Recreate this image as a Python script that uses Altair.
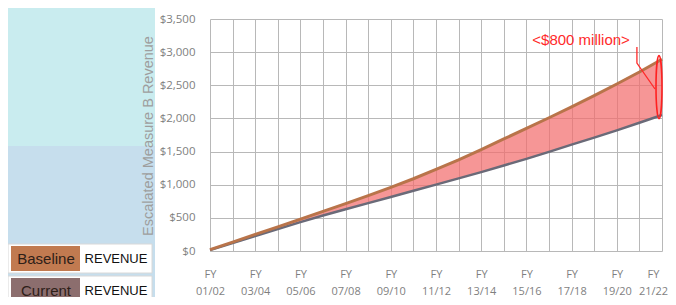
import altair as alt
import pandas as pd

# ---------------- data ----------------
fiscal_years = ["01/02", "02/03", "03/04", "04/05", "05/06", "06/07", "07/08",
                "08/09", "09/10", "10/11", "11/12", "12/13", "13/14", "14/15",
                "15/16", "16/17", "17/18", "18/19", "19/20", "20/21", "21/22"]
baseline = [20, 135, 250, 365, 480, 598, 715, 835, 960, 1090, 1230, 1375,
            1530, 1690, 1850, 2010, 2175, 2345, 2520, 2700, 2892]
current = [15, 120, 225, 330, 435, 535, 630, 722, 815, 910, 1002, 1095,
           1190, 1290, 1390, 1495, 1605, 1710, 1820, 1935, 2052]
y_ticks = [0, 500, 1000, 1500, 2000, 2500, 3000, 3500]
y_title = "Escalated Measure B Revenue"
legend_names = ["Baseline", "Current"]
legend_colors = ["#c17a50", "#8c6e6e"]
legend_tag = "REVENUE"
annotation_text = "<$800 million>"
annotation_pos = [16.42, 3183]
leader_x = [18.89, 18.89, 19.69]
leader_y = [3077, 2836, 2444]

# ---------------- tables ----------------
n = len(fiscal_years)
df = pd.DataFrame({"i": list(range(n)), "fy": fiscal_years,
                   "baseline": baseline, "current": current})
one = pd.DataFrame({"k": [0]})
ann = pd.DataFrame({"x": [annotation_pos[0]], "y": [annotation_pos[1]], "t": [annotation_text]})
leader = pd.DataFrame({"x": leader_x, "y": leader_y, "o": list(range(len(leader_x)))})
ell = pd.DataFrame({"x": [n - 1], "y": [(baseline[-1] + current[-1]) / 2]})

W, H = 452, 232
xscale = alt.Scale(domain=[0, n - 1], nice=False, zero=False)
yscale = alt.Scale(domain=[0, 3500], nice=False)

lbl_arr = "[" + ",".join("'" + f + "'" for f in fiscal_years) + "]"
label_expr = f"datum.value % 2 === 0 ? ['FY', {lbl_arr}[datum.value]] : ''"

x_axis = alt.Axis(values=list(range(n)), labelExpr=label_expr,
                  grid=True, ticks=False, domain=False, title=None,
                  labelPadding=17, labelLineHeight=17, labelBaseline="top",
                  labelFont="Open Sans", labelFontSize=11, labelColor="#7f7f7f",
                  gridColor="#b8b8b8", gridWidth=1, labelAngle=0, labelFlush=False,
                  labelOverlap=False,
                  labelOffset={"expr": f"datum.value === {n - 1} ? -9 : 0"})
y_axis = alt.Axis(values=y_ticks, format="$,.0f", grid=True, ticks=False, domain=False,
                  labelPadding=15, labelFont="Open Sans", labelFontSize=11.5,
                  labelColor="#808080", gridColor="#b8b8b8", gridWidth=1,
                  labelOverlap=False, title=None)

X = lambda f: alt.X(f, scale=xscale, axis=x_axis)
Y = lambda f: alt.Y(f, scale=yscale, axis=y_axis)

# background panels (left side of slide)
bg_top = alt.Chart(one).mark_rect(color="#c9ecef").encode(
    x=alt.value(-202), x2=alt.value(-55), y=alt.value(-11), y2=alt.value(127))
bg_bot = alt.Chart(one).mark_rect(color="#c6deed").encode(
    x=alt.value(-202), x2=alt.value(-55), y=alt.value(127), y2=alt.value(290))

ytitle = alt.Chart(one).mark_text(text=y_title, font="Liberation Sans", fontSize=14.5,
                                  color="#9e9e9e", angle=270, align="center",
                                  baseline="middle").encode(
    x=alt.value(-61), y=alt.value(117))

area = alt.Chart(df).mark_area(color="#f26d6d", opacity=0.72).encode(
    x=X("i:Q"), y=Y("current:Q"), y2="baseline:Q")

line_cur = alt.Chart(df).mark_line(color="#6a6a78", strokeWidth=2.5).encode(
    x=X("i:Q"), y=Y("current:Q"))
line_base = alt.Chart(df).mark_line(color="#b9744a", strokeWidth=3).encode(
    x=X("i:Q"), y=Y("baseline:Q"))

ann_text = alt.Chart(ann).mark_text(color="#ff2a2a", font="Liberation Sans", fontSize=15,
                                    align="center", baseline="middle").encode(
    x=X("x:Q"), y=Y("y:Q"), text="t:N")
ann_line = alt.Chart(leader).mark_line(color="#ff2a2a", strokeWidth=1.3).encode(
    x=X("x:Q"), y=Y("y:Q"), order="o:Q")
ann_ell = alt.Chart(ell).mark_point(
    shape="M0,-1A0.095,1,0,1,1,0,1A0.095,1,0,1,1,0,-1Z", size=3969, filled=False,
    stroke="#ff2020", strokeWidth=1.6, opacity=1, xOffset=-3).encode(
    x=X("x:Q"), y=Y("y:Q"))

# custom legend boxes
legend_layers = []
tops = [225, 257]
for name, col, top in zip(legend_names, legend_colors, tops):
    legend_layers.append(alt.Chart(one).mark_rect(color="white", stroke="#d8d8d8", strokeWidth=1).encode(
        x=alt.value(-202), x2=alt.value(-58), y=alt.value(top), y2=alt.value(top + 29)))
    legend_layers.append(alt.Chart(one).mark_rect(color=col).encode(
        x=alt.value(-199), x2=alt.value(-130), y=alt.value(top + 2), y2=alt.value(top + 27)))
    legend_layers.append(alt.Chart(one).mark_text(text=name, font="Liberation Sans", fontSize=15,
                                                  color="#2e2018", align="center", baseline="middle").encode(
        x=alt.value(-164), y=alt.value(top + 14.5)))
    legend_layers.append(alt.Chart(one).mark_text(text=legend_tag, font="Liberation Sans", fontSize=13,
                                                  color="#111111", align="center", baseline="middle").encode(
        x=alt.value(-94), y=alt.value(top + 14.5)))

chart = alt.layer(bg_top, bg_bot, ytitle, area, line_cur, line_base,
                  ann_text, ann_line, ann_ell, *legend_layers).properties(
    width=W, height=H,
    autosize=alt.AutoSizeParams(type="none"),
    padding={"left": 202, "top": 11, "right": 6, "bottom": 46},
    background="white",
).configure_view(strokeWidth=0)

chart.save("out.html", embed_options={"renderer": "svg", "actions": False})
